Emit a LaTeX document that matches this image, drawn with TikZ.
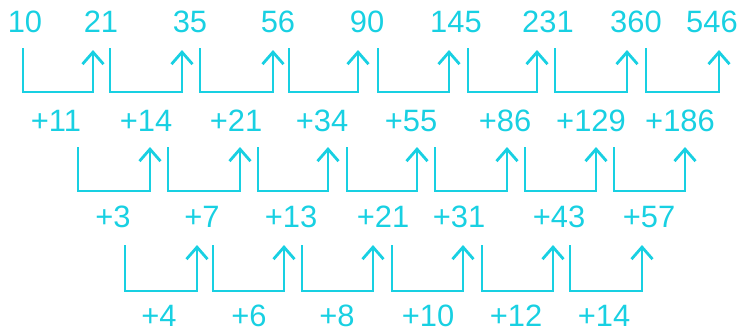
\documentclass[tikz,border=0pt]{standalone}
\usepackage{fontspec}
\setmainfont{Liberation Sans}
\usetikzlibrary{arrows.meta}
\definecolor{cy}{RGB}{24,208,226}
\begin{document}
\begin{tikzpicture}[x=1bp,y=-1bp,
  num/.style={text=cy,font=\fontsize{31}{31}\selectfont,inner sep=0pt,anchor=center},
  bracket/.style={draw=cy,line width=2.8bp,-{Straight Barb[length=12bp,width=21bp]}}]
\useasboundingbox (0,0) rectangle (742,334);
% top numbers
\foreach \x/\t [count=\i] in {25/10,101/21,190/35,278/56,367/90,456/145,548/231,636/360,712/546}
  \node[num] (n\i) at (\x,22) {\t};
% first differences
\foreach \x/\t [count=\i] in {56/+11,146/+14,236/+21,322/+34,411/+55,505/+86,591/+129,680/+186}
  \node[num] (d\i) at (\x,121) {\t};
% second differences
\foreach \x/\t [count=\i] in {113/+3,202/+7,291/+13,383/+21,459/+31,559/+43,649/+57}
  \node[num] (e\i) at (\x,217) {\t};
% third differences
\foreach \x/\t [count=\i] in {159/+4,249/+6,337/+8,428/+10,516/+12,604/+14}
  \node[num] (f\i) at (\x,316) {\t};
% row 1 brackets
\foreach \l/\r [count=\i] in {23/93,110/182,200/273,289/358,378/449,468/537,555/627,646/719}{
  \coordinate (ra\i) at (\l,48);
  \coordinate (rc\i) at (\r,92);
  \coordinate (rb\i) at (\r,50);
  \draw[bracket] (ra\i) |- (rc\i) -- (rb\i);
}
% row 2 brackets
\foreach \l/\r [count=\i] in {78/150,168/240,258/328,347/417,435/507,525/596,614/685}{
  \coordinate (sa\i) at (\l,147);
  \coordinate (sc\i) at (\r,191);
  \coordinate (sb\i) at (\r,147);
  \draw[bracket] (sa\i) |- (sc\i) -- (sb\i);
}
% row 3 brackets
\foreach \l/\r [count=\i] in {125/197,213/284,302/373,392/463,482/553,570/642}{
  \coordinate (ta\i) at (\l,245);
  \coordinate (tc\i) at (\r,291);
  \coordinate (tb\i) at (\r,245);
  \draw[bracket] (ta\i) |- (tc\i) -- (tb\i);
}
\end{tikzpicture}
\end{document}
